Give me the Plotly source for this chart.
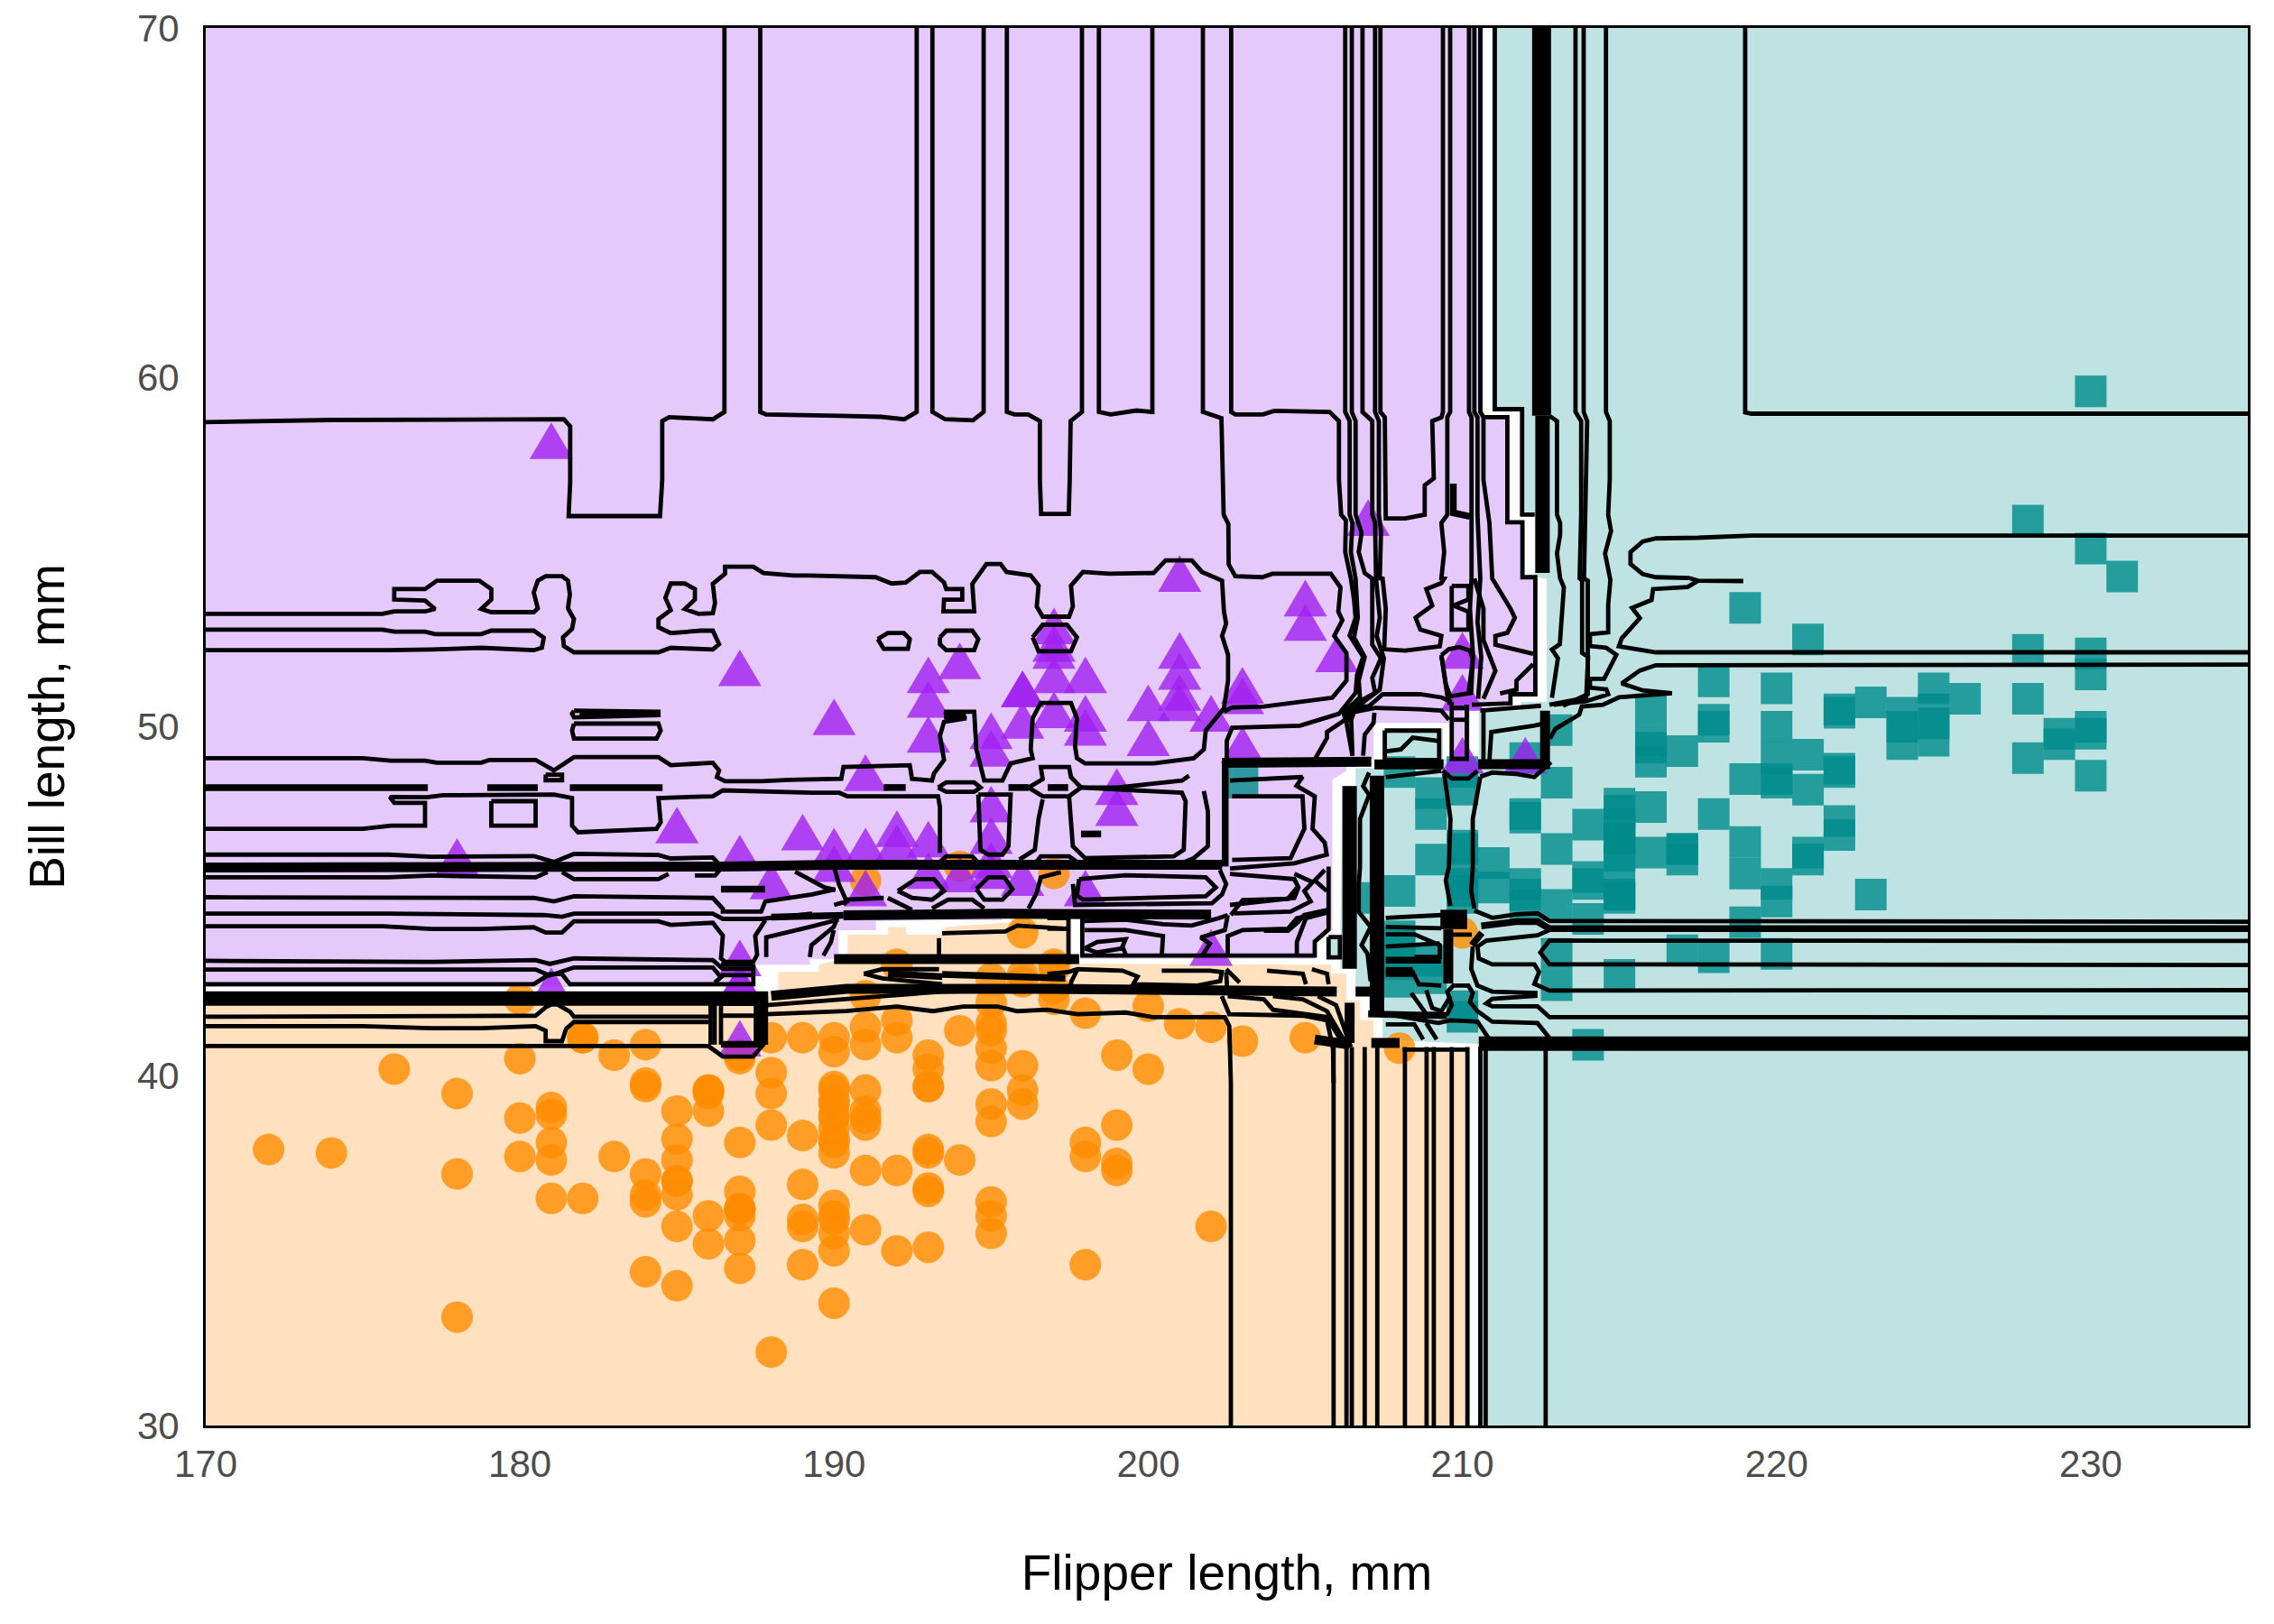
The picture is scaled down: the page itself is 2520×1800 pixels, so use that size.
import plotly.graph_objects as go

# ---- penguin measurements (flipper length, bill length) ----
adelie_flipper = [181,186,195,193,190,181,195,182,191,198,185,195,197,184,194,174,180,189,185,180,187,183,187,172,180,178,178,188,184,195,196,190,180,181,184,182,195,186,196,185,190,182,190,191,186,188,190,200,187,191,186,193,181,194,185,195,185,192,184,192,195,188,190,198,190,190,196,197,190,195,191,184,187,195,189,196,187,193,191,194,190,189,189,190,202,205,185,186,187,208,190,196,178,192,192,203,183,190,193,184,199,190,181,197,198,191,193,197,191,196,188,199,189,189,187,198,176,202,186,199,191,195,191,210,190,197,193,199,187,190,191,200,185,193,193,187,188,190,192,185,190,184,195,193,187,201]
adelie_bill = [39.1,39.5,40.3,36.7,39.3,38.9,39.2,41.1,38.6,34.6,36.6,38.7,42.5,34.4,46,37.8,37.7,35.9,38.2,38.8,35.3,40.6,40.5,37.9,40.5,39.5,37.2,39.5,40.9,36.4,39.2,38.8,42.2,37.6,39.8,36.5,40.8,36,44.1,37,39.6,41.1,36,42.3,39.6,40.1,35,42,34.5,41.4,39,40.6,36.5,37.6,35.7,41.3,37.6,41.1,36.4,41.6,35.5,41.1,35.9,41.8,33.5,39.7,39.6,45.8,35.5,42.8,40.9,37.2,36.2,42.1,34.6,42.9,36.7,35.1,37.3,41.3,36.3,36.9,38.3,38.9,35.7,41.1,34,39.6,36.2,40.8,38.1,40.3,33.1,43.2,35,41,37.7,37.8,37.9,39.7,38.6,38.2,38.1,43.2,38.1,45.6,39.7,42.2,39.6,42.7,38.6,37.3,35.7,41.1,36.2,37.7,40.2,41.4,35.2,40.6,38.8,41.5,39,44.1,38.5,43.1,36.8,37.5,38.1,41.1,35.6,40.2,37,39.7,40.2,40.6,32.1,40.7,37.3,39,39.2,36.6,36,37.8,36,41.5]
chinstrap_flipper = [192,196,193,188,197,198,178,197,195,198,193,194,185,201,190,201,197,181,190,195,181,191,187,193,195,197,200,200,191,205,187,201,187,203,195,199,195,210,192,205,210,187,196,196,196,201,190,212,187,198,199,201,193,203,187,197,191,203,202,194,206,189,195,207,202,193,210,198]
chinstrap_bill = [46.5,50,51.3,45.4,52.7,45.2,46.1,51.3,46,51.3,46.6,51.7,47,52,45.9,50.5,50.3,58,46.4,49.2,42.4,48.5,43.2,50.6,46.7,52,50.5,49.5,46.4,52.8,40.9,54.2,42.5,51,49.7,47.5,47.6,52,46.9,53.5,49,46.2,50.9,45.5,50.9,50.8,50.1,49,51.5,49.8,48.1,51.4,45.7,50.7,42.5,52.2,45.2,49.3,50.2,45.6,51.9,46.8,45.7,55.8,43.5,49.6,50.8,50.2]
gentoo_flipper = [211,230,210,218,215,210,211,219,209,215,214,216,214,213,210,217,210,221,209,222,218,215,213,215,215,215,215,210,220,222,209,207,230,220,220,213,219,208,208,208,225,210,216,222,217,210,225,213,215,210,220,210,225,217,220,208,220,208,224,208,221,214,231,219,230,229,220,223,216,221,221,217,216,230,209,220,215,223,212,221,212,224,212,228,218,218,212,230,218,228,212,224,214,226,216,222,203,225,219,228,215,228,215,210,219,208,209,216,229,213,230,217,230,222,214,215,222,212,213]
gentoo_bill = [46.1,50,48.7,50,47.6,46.5,45.4,46.7,43.3,46.8,40.9,49,45.5,48.4,45.8,49.3,42,49.2,46.2,48.7,50.2,45.1,46.5,46.3,42.9,46.1,47.8,48.2,50,47.3,42.8,45.1,59.6,49.1,48.4,42.6,44.4,44,48.7,42.7,49.6,45.3,49.6,50.5,43.6,45.5,50.5,44.9,45.2,46.6,48.5,45.1,50.1,46.5,45,43.8,45.5,43.2,50.4,45.3,46.2,45.7,54.3,45.8,49.8,49.5,43.5,50.7,47.7,46.4,48.2,46.5,46.4,48.6,47.5,51.1,45.2,45.2,49.1,52.5,47.4,50,44.9,50.8,43.4,51.3,47.5,52.1,47.5,52.2,45.5,49.5,44.5,50.8,49.4,46.9,48.4,51.1,48.5,55.9,47.2,49.1,46.8,41.7,53.4,43.3,48.1,50.5,49.8,43.5,51.5,46.2,55.1,48.8,47.2,46.8,50.4,45.2,49.9]

x_ticks = [170,180,190,200,210,220,230]
y_ticks = [30,40,50,60,70]

# ---- classifier regions ----
region_chinstrap = [(170,70),(210.67,70),(210.67,58.85),(211.43,58.85),(211.43,55.85),(211.91,55.85),(211.91,54.28),(212.35,54.28),(212.39,50.93),(211.53,50.93),(211.53,50.67),(210.24,50.63),(210.24,49.08),(209.61,49.08),(209.61,50.11),(207.17,50.11),(207.17,49.08),(206.31,49.0),(206.31,48.74),(205.86,48.48),(205.86,44.18),(205.78,44.14),(205.31,43.79),(205.31,43.36),(197.84,43.36),(197.84,44.7),(195.35,44.68),(195.35,44.46),(193.54,44.46),(191.33,44.44),(191.33,44.18),(190.14,44.18),(190.14,43.36),(189.23,43.36),(189.23,43.19),(187.46,43.19),(187.46,42.55),(170,42.55)]
region_adelie = [(170,30),(210.24,30),(210.24,40.79),(208.08,40.79),(207.17,41.09),(207.17,41.6),(206.74,41.6),(206.74,42.16),(206.31,42.16),(206.31,42.94),(205.83,42.94),(205.83,43.19),(197.56,43.22),(197.56,44.52),(195.64,44.57),(195.64,44.4),(193.54,44.27),(193.44,44.05),(192.29,44.05),(192.29,44.27),(191.72,44.27),(191.72,44.05),(190.43,44.05),(190.43,43.41),(189.52,43.19),(189.52,42.98),(188.22,42.98),(188.22,42.42),(170,42.4)]
region_gentoo = [(210.95,70),(235,70),(235,30),(210.52,30),(210.52,40.92),(208.47,41.0),(207.46,41.09),(207.46,41.78),(207.03,41.78),(207.03,42.29),(206.6,42.29),(206.6,43.07),(206.12,43.07),(206.12,43.37),(205.74,43.37),(205.74,44.01),(206.12,44.01),(206.17,48.31),(206.6,48.31),(206.6,48.82),(207.46,48.82),(207.46,49.94),(209.38,49.94),(209.38,49.08),(210.52,49.08),(210.52,50.46),(211.86,50.46),(211.86,50.71),(212.68,50.71),(212.68,54.24),(212.3,54.28),(212.3,56.07),(211.9,56.07),(211.9,59.09),(210.95,59.09)]

# ---- decision contour lines, grouped by stroke ----
contours_thin = [
 [(170,53.23),(175.63,53.23),(176.0,53.3),(176.98,53.3),(177.3,53.37),(176.98,53.61),(176.0,53.64),(176.0,53.94),(176.98,53.94),(177.36,54.18),(178.71,54.18),(179.09,53.94),(179.09,53.64),(178.77,53.37),(179.09,53.28),(180.44,53.28),(180.57,53.39),(180.44,53.84),(180.57,54.18),(180.82,54.31),(181.34,54.31),(181.53,54.18),(181.59,53.79),(181.53,53.39),(181.72,53.08),(181.66,52.8),(181.37,52.56),(181.4,52.31),(181.72,52.13),(184.41,52.13),(184.8,52.26),(186.14,52.21),(186.34,52.36),(186.14,52.75),(185.76,52.75),(184.8,52.68),(184.41,52.85),(184.41,53.08),(184.8,53.34),(184.63,53.69),(184.8,54.1),(185.25,54.1),(185.57,53.94),(185.57,53.64),(185.25,53.37),(185.69,53.23),(186.14,53.25),(186.21,53.54),(186.14,54.09),(186.53,54.38),(186.53,54.58),(187.43,54.58),(187.75,54.4),(188.71,54.33),(189.21,54.33),(191.32,54.28),(191.83,54.1),(192.28,54.13),(192.73,54.43),(193.12,54.43),(193.5,54.13),(193.57,53.94),(194.08,53.94),(194.08,53.64),(193.5,53.64),(193.48,53.3),(194.46,53.3),(194.4,54.09),(194.85,54.66),(195.3,54.66),(195.49,54.43),(196.26,54.33),(196.51,54.04),(196.45,53.44),(196.64,53.15),(197.48,53.15),(197.6,53.44),(197.54,54.04),(197.92,54.43),(198.76,54.38),(200.17,54.4),(200.55,54.76),(201.39,54.76),(201.71,54.43),(202.35,54.18),(202.41,53.3),(202.48,52.95),(202.35,52.6),(202.54,52.06),(202.54,51.32),(202.41,50.53),(201.83,49.89),(201.77,49.35),(201.45,49.1),(200.17,48.95),(197.99,48.95),(197.73,49.1),(197.67,49.45),(197.73,50.24),(197.54,50.68),(196.58,50.68),(196.32,50.24),(196.26,49.35),(196.32,49.1),(195.62,48.95),(195.36,48.46),(194.78,48.46),(194.66,48.95),(194.53,49.35),(194.46,50.43),(193.5,50.43),(194.21,50.24),(193.5,50.14),(193.37,49.74),(193.5,49.05),(193.18,48.66),(193.12,48.46),(192.48,48.51),(192.41,48.9),(190.3,48.85),(190.23,48.51),(188.58,48.48),(187.68,48.44),(186.53,48.44),(186.27,48.56),(186.34,48.75),(186.14,48.97),(184.8,48.9),(184.41,49.13),(181.72,49.13),(181.08,48.75),(180.5,49.05),(179.03,49.05),(178.77,48.97),(177.36,48.97),(176.98,49.03),(175.89,49.03),(175.0,49.1),(170,49.1)],
 [(170,52.78),(175.63,52.78),(176.0,52.72),(176.98,52.72),(177.3,52.65),(178.77,52.65),(179.09,52.75),(180.44,52.75),(180.76,52.55),(180.7,52.26),(180.44,52.19),(178.77,52.26),(177.17,52.21),(175.8,52.19),(170,52.19)],
 [(170,58.72),(174,58.78),(181.4,58.8),(181.6,58.6),(181.6,57.0),(181.55,56.03),(184.46,56.03),(184.53,57.07),(184.53,58.75),(184.75,58.86),(186.14,58.8),(186.51,59.01),(186.51,70)],
 [(187.65,70),(187.65,59.01),(187.83,58.94),(188.55,58.92),(190.17,58.9),(191.5,58.87),(192.23,58.8),(192.63,59.01),(192.63,70)],
 [(193.13,70),(193.13,59.01),(193.54,58.8),(194.42,58.77),(194.76,59.01),(194.76,70)],
 [(195.5,70),(195.5,59.01),(195.74,58.94),(196.18,58.94),(196.55,58.75),(196.55,57.07),(196.59,56.09),(197.47,56.09),(197.5,57.07),(197.53,58.75),(197.89,59.01),(197.89,70)],
 [(198.43,70),(198.43,59.01),(198.81,58.94),(199.62,59.05),(200.13,59.01),(200.13,70)],
 [(201.74,70),(201.74,59.01),(202.33,58.83),(202.37,57.07),(202.4,56.07),(202.55,55.8),(202.56,54.65),(202.77,54.31),(203.63,54.28),(203.95,54.38),(205.81,54.38),(206.12,53.99),(206.05,53.3),(206.18,53.05),(205.92,52.6),(206.31,52.11),(206.31,51.32),(205.86,50.83),(203.68,50.58),(202.67,50.55),(202.41,50.43)],
 [(202.64,70),(202.64,59.01),(202.77,58.94),(203.65,58.94),(204.01,59.04),(205.77,59.01),(206.07,58.75),(206.07,57.07),(206.14,56.07),(206.29,55.91),(206.27,55.0),(206.45,54.24),(206.55,53.64),(206.6,53.12),(206.41,52.61),(206.84,52.0),(206.65,51.49),(206.6,50.97),(206.07,50.37),(204.83,50.03),(202.67,49.97),(202.5,49.6),(202.5,49.0)],
 [(206.27,70),(206.27,59.01),(206.41,58.75),(206.41,56.07),(206.5,55.83),(206.45,55.0),(206.6,54.24),(206.67,53.12),(206.55,52.56),(206.89,52.0),(206.7,51.32),(206.74,50.84),(206.22,50.41),(206.27,50.2),(205.69,49.85),(205.69,49.68),(205.31,49.08)],
 [(206.48,70),(206.48,59.01),(206.6,58.75),(206.6,56.07),(206.79,55.55),(206.7,55.0),(206.89,54.4),(207.13,54.24),(207.13,52.35),(207.41,51.96),(207.13,51.4),(207.22,50.97),(206.46,50.59),(206.31,50.11),(206.5,49.17)],
 [(206.82,70),(206.82,59.01),(207.13,58.75),(207.13,56.07),(207.22,55.83),(207.25,54.24),(207.37,53.12),(207.27,52.6),(207.5,51.96),(207.37,51.06),(206.6,50.54),(206.46,50.2),(206.5,49.17)],
 [(206.84,49.17),(206.89,49.77),(207.17,50.11),(207.2,50.4)],
 [(207.22,70),(207.22,59.01),(207.34,58.75),(207.34,56.07),(207.41,55.6),(207.37,54.25),(207.46,54.24),(207.56,53.38),(207.51,52.22),(208.18,52.18),(209.28,52.3),(209.33,52.6),(208.66,52.78),(208.51,53.12),(209.04,53.47),(208.85,53.94),(209.33,54.11),(209.42,54.24),(209.33,54.25),(209.42,55.0),(209.33,55.83),(209.52,56.07),(209.52,58.86),(209.61,59.01),(209.61,70)],
 [(207.39,70),(207.39,59.01),(207.53,58.86),(207.56,55.96),(208.18,55.96),(208.8,56.07),(208.8,56.91),(209.09,57.11),(209.04,58.75),(209.33,58.85),(209.38,59.01),(209.38,70)],
 [(206.41,50.54),(207.03,50.59),(207.46,50.93),(208.65,50.93),(209.33,50.84),(209.66,50.71)],
 [(206.26,50.37),(207.22,50.54),(208.65,50.5),(209.33,50.46),(209.57,50.2)],
 [(210.21,70),(210.21,59.01),(210.29,58.86),(210.29,54.24),(210.24,53.38),(210.34,52.0),(210.19,50.9)],
 [(210.38,70),(210.38,59.01),(210.48,58.86),(210.48,56.07),(210.57,54.24),(210.48,53.0),(210.6,52.0),(210.5,50.8)],
 [(210.57,70),(210.57,59.01),(210.67,58.86),(210.67,57.07),(210.86,55.83),(210.95,54.24),(211.53,53.38),(211.67,53.12),(211.43,52.69),(211.05,52.6),(211.05,52.35),(212.25,52.09)],
 [(210.38,54.24),(210.67,53.38),(210.67,52.48),(211.05,51.6),(210.67,50.8)],
 [(212.25,51.79),(211.72,51.32),(211.72,51.06),(211.2,50.95)],
 [(209.33,52.05),(209.57,52.22),(209.9,52.28),(210.24,52.18),(210.33,51.92),(210.28,50.97),(209.61,50.87),(209.47,51.23),(209.33,52.05)],
 [(209.33,52.05),(209.52,50.89),(209.61,50.63)],
 [(209.66,54.03),(210.19,54.03),(210.19,53.64),(209.71,53.47),(210.19,53.29),(210.19,52.78),(209.66,52.78),(209.66,54.03)],
 [(209.66,50.71),(209.66,49.08),(210.14,49.08),(210.14,50.63)],
 [(209.66,50.54),(210.14,50.54)],
 [(209.66,50.2),(210.14,50.2)],
 [(209.38,48.74),(209.66,48.52),(210.19,48.52),(210.48,48.74)],
 [(209.42,48.65),(209.62,47.36),(209.57,45.99),(209.47,45.6),(209.62,44.87)],
 [(210.57,48.57),(210.33,47.36),(210.33,45.99),(210.28,45.3),(210.38,44.8)],
 [(210.57,48.57),(210.95,48.69),(211.72,48.65),(212.29,48.56),(212.82,48.99)],
 [(207.56,48.56),(209.33,48.74)],
 [(207.03,48.69),(206.84,48.3),(207.03,48.05),(206.74,47.36),(206.74,45.99),(206.7,45.47),(206.7,44.7),(207.08,44.27),(206.79,43.75),(206.98,43.5),(207.08,42.72)],
 [(205.74,43.98),(206.1,43.98),(206.1,43.4),(205.74,43.4),(205.74,43.98)],
 [(207.53,49.89),(209.26,49.89),(209.26,49.05),(207.53,49.05),(207.53,49.89)],
 [(207.59,49.3),(208.04,49.35),(208.42,49.69),(209.26,49.59)],
 [(210.67,50.43),(210.67,49.05)],
 [(210.86,49.05),(210.92,49.85),(212.27,50.03),(212.53,50.08)],
 [(210.57,50.46),(212.5,50.6)],
 [(210.63,58.86),(211.43,58.86),(211.43,55.85),(211.91,55.85),(211.91,54.28),(212.32,54.28),(212.32,50.93),(211.53,50.93),(211.53,50.67),(210.3,50.63)],
 [(211.03,70),(211.03,59.09),(211.9,59.09),(211.9,56.07),(212.3,56.07)],
 [(205.74,46.0),(205.74,44.2),(205.3,43.85),(205.3,43.45),(197.9,43.45),(197.9,44.55)],
 [(196.79,44.52),(197.46,44.52),(197.46,43.2)],
 [(196.79,44.22),(197.46,44.22)],
 [(212.77,58.9),(213.01,58.75),(213.01,56.07),(213.11,55.83),(213.11,55.49),(213.01,54.96),(213.11,54.25),(213.23,53.99),(213.1,52.36),(212.85,52.21),(213.04,51.96),(212.85,50.83)],
 [(213.6,70),(213.6,59.01),(213.78,58.75),(213.78,56.07),(213.73,54.25),(213.81,54.18),(213.81,52.11),(214.0,52.0),(213.94,50.83),(212.77,50.63)],
 [(213.86,70),(213.86,59.01),(213.97,58.75),(213.92,56.07),(213.87,54.25),(213.99,54.18),(213.99,52.41),(213.99,50.93),(213.2,50.6)],
 [(214.57,70),(214.57,59.01),(214.69,58.75),(214.69,57.07),(214.64,56.07),(214.73,55.6),(214.54,54.96),(214.69,54.25),(214.71,54.2),(214.64,53.49),(214.64,52.7),(214.06,52.65),(214.06,52.31),(214.58,52.26),(214.9,52.06),(214.51,51.37),(214.06,51.37),(214.06,51.12),(214.58,51.07),(214.64,50.93),(213.94,50.73),(212.91,50.63)],
 [(219,70),(219,59.0),(219.2,58.96),(235,58.96)],
 [(235,55.47),(219.2,55.47),(217.5,55.41),(216.16,55.39),(215.74,55.3),(215.35,55.0),(215.35,54.66),(215.74,54.37),(216.16,54.28),(217.2,54.26),(217.5,54.18),(218.94,54.17)],
 [(217.5,54.18),(217.17,54.0),(216.07,53.94),(216.02,53.63),(215.4,53.4),(215.65,53.11),(215.07,52.53),(214.98,52.3),(216.16,52.13),(235,52.13)],
 [(235,51.78),(219.1,51.78),(216.16,51.76),(215.65,51.61),(215.07,51.24),(215.74,51.04),(216.67,50.96),(214.98,50.84),(214.47,50.63),(213.8,50.58),(213.72,50.35),(212.96,49.94),(212.79,49.66)],
 [(235,44.42),(212.77,44.44),(212.39,44.66),(211.72,44.63),(210.95,44.53),(210.38,44.74)],
 [(212.77,44.18),(212.39,44.03),(210.76,43.88),(210.48,43.71),(210.52,43.37),(210.95,43.2),(212.29,43.2),(212.44,42.98),(212.29,42.64),(212.77,42.45),(235,42.46)],
 [(235,43.87),(212.77,43.88),(212.48,43.54),(212.77,43.2),(235,43.18)],
 [(235,41.68),(212.77,41.69),(212.39,42.0),(210.95,42.0),(210.76,42.08),(210.95,42.21),(212.39,42.3)],
 [(212.39,42.38),(210.95,42.42),(210.48,42.59),(210.28,43.07),(210.33,43.71)],
 [(212.77,41.09),(212.39,41.52),(210.95,41.56),(210.48,41.86),(210.24,42.12),(210.33,42.38),(210.19,42.59),(209.71,42.59),(209.52,42.42),(209.66,42.03),(209.52,41.78),(209.33,41.73)],
 [(210.86,41.05),(210.48,41.56),(209.62,41.6),(209.23,41.52),(207.56,41.78)],
 [(207.56,42.98),(208.42,42.98),(208.61,42.63),(209.33,42.59)],
 [(207.56,44.53),(209.33,44.61)],
 [(207.56,44.27),(209.33,44.23)],
 [(207.56,44.06),(208.47,44.06),(209.28,43.75),(209.28,43.41),(208.47,43.41)],
 [(207.56,43.71),(209.28,43.8)],
 [(209.5,44.05),(210.3,44.05)],
 [(208.37,42.38),(208.85,41.78),(209.42,41.78)],
 [(208.85,42.46),(209.04,41.95),(209.33,41.86),(209.62,42.29)],
 [(207.56,41.48),(208.47,41.48),(208.75,41.05)],
 [(208.85,41.52),(209.18,41.05)],
 [(205.9,30),(205.9,40.83)],[(206.31,30),(206.31,40.83)],[(206.48,30),(206.48,40.83)],[(206.89,30),(206.89,40.83)],[(207.29,30),(207.29,40.83)],[(208.17,30),(208.17,40.83)],[(208.86,30),(208.86,40.83)],[(209.09,30),(209.09,40.83)],[(209.66,30),(209.66,40.83)],[(210.16,30),(210.16,40.83)],[(210.57,30),(210.57,40.83)],[(210.74,30),(210.74,40.83)],[(212.65,30),(212.65,40.83)],
 [(208.1,40.76),(210.2,40.76)],
 [(170,47.08),(175,47.08),(175.89,47.17),(176.98,47.17),(176.98,47.82),(176.0,47.82),(175.86,47.99),(177.04,47.98),(177.55,48.04),(180.5,48.06),(181.08,48.06),(181.66,47.96),(181.66,47.17),(181.85,46.98),(184.35,47.08),(184.48,47.27),(184.41,47.96),(186.14,48.01),(186.46,48.18),(189.32,48.11),(190.17,48.11),(190.42,48.01),(192.22,48.01),(193.31,48.01),(193.37,47.7),(193.37,46.39)],
 [(179.09,47.87),(180.5,47.87),(180.5,47.17),(179.09,47.17),(179.09,47.87)],
 [(181.72,50.09),(184.41,50.09),(184.48,49.89),(184.35,49.66),(181.72,49.66),(181.66,49.89),(181.72,50.09)],
 [(181.72,50.46),(182.4,50.46),(184.41,50.43),(184.41,50.33),(182.4,50.28),(181.72,50.27),(181.66,50.37),(181.72,50.46)],
 [(180.82,48.63),(181.34,48.63),(181.34,48.47),(180.82,48.47),(180.82,48.63)],
 [(191.39,52.51),(191.71,52.68),(192.22,52.68),(192.41,52.51),(192.35,52.23),(191.58,52.23),(191.39,52.51)],
 [(193.37,52.56),(193.57,52.75),(194.4,52.75),(194.59,52.51),(194.46,52.19),(193.57,52.19),(193.37,52.36),(193.37,52.56)],
 [(196.32,52.56),(196.64,52.92),(197.41,52.92),(197.73,52.56),(197.54,52.16),(196.51,52.16),(196.32,52.56)],
 [(193.31,48.26),(193.57,48.41),(194.46,48.41),(194.66,48.26),(194.46,48.14),(193.57,48.14),(193.31,48.26)],
 [(196.19,48.26),(196.64,48.5),(196.58,48.85),(197.48,48.85),(197.54,48.56),(197.86,48.26),(197.48,48.01),(196.64,48.01),(196.19,48.26)],
 [(197.86,48.26),(199.02,48.26),(201.07,48.46),(201.3,48.6)],
 [(197.86,48.26),(201.07,48.11),(201.19,47.87),(201.13,46.48),(200.81,46.29),(197.99,46.24),(197.6,46.58),(197.48,47.87),(197.48,48.01)],
 [(196.64,47.92),(196.51,47.37),(196.39,46.48),(195.9,46.2)],
 [(194.59,48.06),(194.66,46.48),(194.91,46.34),(195.36,46.34),(195.55,46.58),(195.62,48.06),(194.59,48.06)],
 [(201.77,48.16),(201.9,47.57),(201.9,46.58),(201.45,46.24),(201.19,46.14)],
 [(202.67,48.01),(204.91,48.01),(204.97,47.08),(204.53,46.24),(202.67,46.19)],
 [(202.6,48.46),(204.91,48.56),(204.72,48.31),(205.3,48.01),(205.23,47.08),(205.62,46.68),(205.68,46.34),(204.65,46.09),(202.6,45.94)],
 [(197.8,45.64),(197.73,45.17),(197.92,45.05),(201.83,45.15),(202.15,45.4),(201.83,45.69),(199.27,45.75),(197.8,45.64)],
 [(197.6,45.5),(197.67,44.9),(202.03,44.95),(202.35,45.2),(202.48,45.5),(202.28,45.9)],
 [(202.6,45.79),(204.65,45.64),(204.78,45.4),(204.65,45.1),(202.6,44.9)],
 [(204.65,45.79),(205.23,45.55),(204.97,45.3),(205.17,45.0),(204.53,44.71),(202.73,44.66)],
 [(205.62,45.9),(205.3,45.6),(205.68,45.3)],
 [(203.68,44.16),(204.45,44.16),(204.77,44.41),(204.96,44.61),(205.73,44.76)],
 [(197.95,44.44),(199.28,44.48),(200.47,44.35),(201.38,44.31),(202.24,44.52),(202.53,44.61)],
 [(197.98,44.18),(199.28,44.18),(200.47,44.01),(200.43,43.45)],
 [(197.98,43.66),(198.37,43.84),(199.28,43.92),(199.18,43.71),(199.28,43.49)],
 [(197.98,43.66),(198.37,43.54),(199.18,43.66)],
 [(202.53,44.61),(202.44,44.18),(201.67,43.97),(201.96,43.79),(201.72,43.45)],
 [(202.53,43.49),(202.53,44.01),(203.01,44.18),(204.45,44.22),(204.73,44.52),(205.69,44.7)],
 [(204.73,43.49),(204.73,43.84),(205.02,44.52),(205.78,44.7)],
 [(202.63,44.61),(203.01,45.04),(204.45,45.08),(204.73,45.39)],
 [(187.84,43.41),(187.84,43.97),(189.23,44.27),(190.14,44.48)],
 [(189.23,43.41),(189.28,43.75),(189.99,44.27),(190.14,44.61)],
 [(189.66,43.45),(189.9,43.84),(189.99,44.18)],
 [(193.25,46.04),(193.57,46.29),(194.4,46.29),(194.66,46.04)],
 [(196.45,46.14),(196.58,46.29),(197.48,46.29),(197.8,46.09)],
 [(192.03,45.3),(192.6,45.64),(193.18,45.64),(193.5,45.3),(193.12,45.05),(192.48,45.1),(192.03,45.3)],
 [(194.53,45.35),(194.91,45.69),(195.42,45.69),(195.68,45.35),(195.36,45.05),(194.78,45.05),(194.53,45.35)],
 [(188.76,45.85),(189.7,45.4),(190.04,45.33)],
 [(190.0,46.0),(190.15,45.5),(190.4,45.0),(190.0,44.9)],
 [(191.71,45.1),(192.48,44.76)],
 [(193.12,44.8),(193.63,45.05),(194.4,45.05),(194.78,44.8)],
 [(196.19,44.8),(196.45,45.25),(196.58,45.69),(197.22,45.84)],
 [(190.3,44.9),(190.42,45.05),(191.58,45.1)],
 [(170,46.34),(175.8,46.34),(177.17,46.28),(180.44,46.3),(181.08,46.13),(181.72,46.36),(184.41,46.33),(184.8,46.23),(186.14,46.26),(186.46,45.94)],
 [(170,45.69),(175.8,45.69),(177.17,45.74),(178.96,45.71),(180.5,45.69),(180.88,45.84)],
 [(181.34,45.84),(181.72,45.64),(184.41,45.64),(184.73,45.79)],
 [(185.57,45.74),(186.21,45.74),(186.4,45.94)],
 [(170,45.12),(177.17,45.12),(180.44,45.1),(181.08,45.0),(181.72,45.15),(186.14,45.1),(186.46,44.79),(186.46,44.71),(187.68,44.71),(187.81,45.0),(189.3,45.2),(190.04,45.35)],
 [(170,44.65),(175.8,44.65),(180.76,44.61),(181.34,44.56),(181.72,44.65),(186.14,44.65),(186.46,44.5),(187.68,44.5),(189.3,44.65)],
 [(170,44.29),(175.63,44.29),(177.17,44.21),(178.77,44.21),(180.44,44.26),(180.82,44.11),(181.34,44.11),(181.72,44.43),(184.41,44.43),(184.8,44.33),(186.14,44.39),(186.46,44.02),(186.4,43.37),(186.53,43.27),(187.43,43.27),(187.55,43.47),(187.49,44.02),(187.81,44.46)],
 [(170,43.3),(177.17,43.27),(180.5,43.32),(180.95,43.21),(181.72,43.37),(186.14,43.32),(186.46,43.07),(187.43,43.07)],
 [(170,43.05),(180.5,43.05),(180.95,42.88),(181.72,43.11),(186.14,43.11),(186.4,42.83),(186.2,42.68)],
 [(170,42.63),(180.44,42.63),(180.95,42.92),(181.34,42.92),(181.59,42.63),(187.43,42.63),(187.43,43.2)],
 [(170,41.7),(177.17,41.7),(180.5,41.73),(180.82,41.97),(181.0,42.05),(181.2,42.05),(181.6,41.84),(181.72,41.7),(186,41.7)],
 [(170,41.43),(175,41.43),(177.17,41.37),(178.77,41.37),(180.5,41.43),(180.82,41.3),(180.82,41.0),(181.34,41.0),(181.47,41.35),(181.72,41.55),(186.0,41.55)],
 [(170,40.86),(186,40.86),(186.46,40.56),(187.42,40.56),(187.81,40.97)],
 [(186.07,42.1),(186.07,40.9)],[(186.2,42.1),(186.2,40.9)],[(186.4,42.1),(186.4,40.9)],
 [(186.4,43.19),(187.4,43.19)],[(186.4,42.89),(187.4,42.89)],
 [(186.4,42.07),(187.5,42.07)],[(186.4,41.73),(187.5,41.73)],
 [(187.84,41.77),(190.38,41.86),(192.0,41.99),(193.15,41.86),(194.11,41.99),(195.21,41.99),(195.83,41.86),(196.6,41.9),(196.79,41.9),(197.75,41.77),(199.28,41.82),(200.14,41.69),(202.44,41.69),(202.58,41.43),(202.63,39.8),(202.63,30)],
 [(187.84,42.03),(190.95,42.25),(193.44,42.42),(195.45,42.46)],
 [(202.34,42.29),(202.58,41.77),(204.92,41.73),(205.69,41.6),(205.88,40.78),(205.9,39.8)],
 [(202.53,42.29),(203.68,42.2),(203.97,41.9),(205.69,41.69),(206.26,40.83)],
 [(203.97,42.29),(204.92,42.2),(205.69,41.86),(206.36,40.83)],
 [(205.4,42.29),(205.98,42.03),(206.45,40.83)],
 [(190.95,42.93),(191.53,43.06),(193.34,43.06)],
 [(190.95,42.93),(191.53,42.8),(193.44,42.63)],
 [(193.44,44.09),(195.45,44.14),(195.83,44.31),(197.36,44.22)],
 [(193.34,43.95),(193.34,43.4)],
 [(196.79,42.93),(197.46,42.98),(197.75,43.06),(199.18,43.02),(199.66,42.85),(199.52,42.63),(201.57,42.59),(202.29,42.72),(202.34,42.98),(201.96,43.02),(200.43,43.02)],
 [(197.75,43.06),(197.56,42.72),(197.51,42.55)],
 [(202.48,43.06),(202.91,42.68)],
 [(202.48,42.98),(202.51,42.55)],
 [(203.78,43.02),(204.92,42.93),(205.02,42.63)],
 [(205.21,43.06),(205.69,42.93),(205.74,42.63)],
]
contours_dash = [
 [(170,48.26),(177.07,48.26)],[(178.96,48.26),(180.57,48.26)],[(181.59,48.26),(184.54,48.26)],
 [(191.58,48.26),(192.28,48.26)],[(195.55,48.26),(196.19,48.26)],[(196.8,48.26),(197.45,48.26)],
 [(197.86,46.93),(198.5,46.93)],[(186.4,45.35),(187.8,45.35)],
 [(181.9,50.37),(184.4,50.37)],[(193.5,50.3),(194.2,50.3)],
 [(191.72,42.93),(193.44,42.85)],[(193.44,42.91),(197.36,42.8)],
 [(207.56,43.32),(209.33,43.32)],[(186.4,40.91),(187.7,40.91)],[(207.0,41.78),(209.5,41.73)],
 [(209.71,56.96),(209.71,56.12),(210.24,56.02)],
 [(235,44.22),(212.77,44.22),(212.39,44.42),(211.72,44.42),(210.6,44.3)],
 [(202.45,49.0),(202.45,46.0)],
 [(188,44.55),(190.3,44.6)],
 [(210.62,44.1),(210.3,43.75)],
]
contours_band = [
 [(170,45.97),(181,45.95),(186.45,46.0),(190,46.05),(202.35,46.05)],
 [(190.3,44.6),(195.35,44.65),(202,44.62)],
 [(188,42.3),(190.4,42.5),(196.8,42.5),(202.3,42.42),(206,42.42)],
 [(190,43.35),(195,43.36),(197.8,43.35)],
 [(202.35,48.97),(207.1,49.0)],[(207.2,48.92),(209.4,48.92)],[(210.5,48.93),(212.63,48.93),(212.63,50.46)],
 [(209.3,44.62),(210.15,44.62)],[(209.3,44.35),(210.15,44.35)],
 [(209.55,44.2),(209.55,42.65)],
 [(206.6,42.42),(207.5,42.42)],
 [(207.56,42.98),(208.42,42.98)],
 [(207.1,40.95),(208.0,40.95)],
 [(206.41,42.1),(206.41,40.95)],
 [(205.3,41.05),(206.4,40.9)],
]
contours_heavy = [
 [(170,42.22),(187.9,42.22)],
 [(210.52,40.93),(235,40.93)],
 [(187.67,42.3),(187.67,40.9)],
 [(206.41,48.3),(206.41,43.07)],
 [(207.28,48.6),(207.28,41.78)],
 [(212.55,58.9),(212.55,54.4)],
]
contours_column = [
 [(212.52,70),(212.52,58.9)],
]

fig = go.Figure()

def add_region(points, colour):
    fig.add_trace(go.Scatter(x=[p[0] for p in points]+[points[0][0]], y=[p[1] for p in points]+[points[0][1]],
                             mode="lines", line=dict(width=0), fill="toself", fillcolor=colour,
                             hoverinfo="skip", showlegend=False))

add_region(region_chinstrap, "#E6C9FB")
add_region(region_adelie, "#FFE1BF")
add_region(region_gentoo, "#BFE3E3")

fig.add_trace(go.Scatter(x=adelie_flipper, y=adelie_bill, mode="markers", name="Adelie", showlegend=False,
                         marker=dict(symbol="circle", size=35, color="rgba(255,140,0,0.8)", line=dict(width=0))))
fig.add_trace(go.Scatter(x=gentoo_flipper, y=gentoo_bill, mode="markers", name="Gentoo", showlegend=False,
                         marker=dict(symbol="square", size=35, color="rgba(0,139,139,0.8)", line=dict(width=0))))
# equilateral triangles, as plotly's own triangle symbol is flatter
TRI_HALF_WIDTH, TRI_UP, TRI_DOWN = 0.69, 0.71, 0.34
for fx, by in zip(chinstrap_flipper, chinstrap_bill):
    fig.add_trace(go.Scatter(x=[fx-TRI_HALF_WIDTH, fx+TRI_HALF_WIDTH, fx, fx-TRI_HALF_WIDTH],
                             y=[by-TRI_DOWN, by-TRI_DOWN, by+TRI_UP, by-TRI_DOWN],
                             mode="lines", line=dict(width=0), fill="toself",
                             fillcolor="rgba(160,32,240,0.8)", showlegend=False, name="Chinstrap"))

def add_contours(group, width):
    xs, ys = [], []
    for path in group:
        xs += [p[0] for p in path] + [None]
        ys += [p[1] for p in path] + [None]
    fig.add_trace(go.Scatter(x=xs, y=ys, mode="lines", hoverinfo="skip", showlegend=False,
                             line=dict(color="black", width=width)))

add_contours(contours_thin, 4.8)
add_contours(contours_dash, 7.5)
add_contours(contours_band, 11)
add_contours(contours_heavy, 16)
add_contours(contours_column, 21)

axis_common = dict(showgrid=False, zeroline=False, showline=True, mirror=True, linecolor="black", linewidth=3,
                   ticks="outside", tickcolor="rgba(0,0,0,0)", ticklabeloverflow="allow",
                   tickfont=dict(family="Liberation Sans", size=42, color="#4D4D4D"))
fig.update_layout(
    width=2520, height=1800, plot_bgcolor="white", paper_bgcolor="white", showlegend=False,
    margin=dict(l=220, r=37, t=23, b=228, autoexpand=False),
    xaxis=dict(range=[170, 235], tickvals=x_ticks, ticktext=[str(v) for v in x_ticks], ticklen=4,
               title=dict(text="Flipper length, mm", standoff=79,
                          font=dict(family="Liberation Sans", size=55, color="black")), **axis_common),
    yaxis=dict(range=[30, 70], tickvals=y_ticks, ticktext=[str(v) for v in y_ticks], ticklen=18,
               title=dict(text="Bill length, mm", standoff=63,
                          font=dict(family="Liberation Sans", size=55, color="black")), **axis_common),
)
fig.write_html("out.html")
